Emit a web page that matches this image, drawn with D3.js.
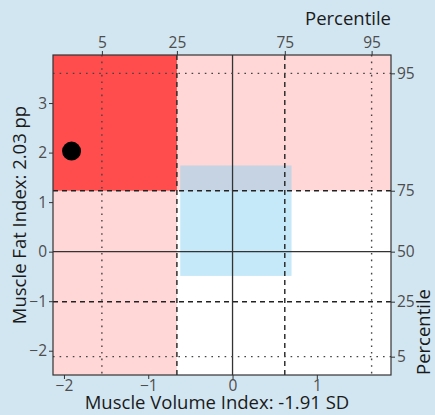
<!DOCTYPE html>
<html>
<head>
<meta charset="utf-8">
<script src="https://cdn.jsdelivr.net/npm/d3@7"></script>
<style>
  body { margin: 0; background: #d2e6f2; }
  svg { display: block; font-family: "Open Sans", sans-serif; }
</style>
</head>
<body>
<div id="chart"></div>
<script>
// patient values
const muscleVolume = -1.91;
const muscleFat = 2.03;

// reference percentiles (z / pp values)
const pctLabels = [5, 25, 50, 75, 95];
const xPctValues = [-1.55, -0.66, 0, 0.62, 1.65];
const yPctValues = [-2.12, -1.01, 0, 1.23, 3.60];
const topPctLabels = [5, 25, 75, 95];

// reference box (normal range)
const refBoxX = [-0.62, 0.70];
const refBoxY = [-0.49, 1.74];

const xTicks = [-2, -1, 0, 1];
const yTicks = [-2, -1, 0, 1, 2, 3];

const W = 435, H = 415;
const pLeft = 53, pRight = 391, pTop = 55, pBottom = 375;

const svg = d3.select("#chart").append("svg")
  .attr("width", W).attr("height", H);

svg.append("rect").attr("width", W).attr("height", H).attr("fill", "#d2e6f2");

let x = d3.scaleLinear().domain([-2.13, 1.88]).range([pLeft, pRight]);
let y = d3.scaleLinear().domain([-2.49, 3.97]).range([pBottom, pTop]);

const x25 = xPctValues[1], y75 = yPctValues[3];
const [xMin, xMax] = x.domain(), [yMin, yMax] = y.domain();

// panel background
svg.append("rect")
  .attr("x", pLeft).attr("y", pTop)
  .attr("width", pRight - pLeft).attr("height", pBottom - pTop)
  .attr("fill", "#ffffff");

// pink zones: low volume or high fat
svg.append("rect")
  .attr("x", x(xMin)).attr("y", y(yMax))
  .attr("width", x(x25) - x(xMin))
  .attr("height", y(yMin) - y(yMax))
  .attr("fill", "#ffd7d7");
svg.append("rect")
  .attr("x", x(xMin)).attr("y", y(yMax))
  .attr("width", x(xMax) - x(xMin))
  .attr("height", y(y75) - y(yMax))
  .attr("fill", "#ffd7d7");

// red zone: both
svg.append("rect")
  .attr("x", x(xMin)).attr("y", y(yMax))
  .attr("width", x(x25) - x(xMin))
  .attr("height", y(y75) - y(yMax))
  .attr("fill", "#ff4d4d");

// reference box
svg.append("rect")
  .attr("x", x(refBoxX[0])).attr("y", y(refBoxY[1]))
  .attr("width", x(refBoxX[1]) - x(refBoxX[0]))
  .attr("height", y(refBoxY[0]) - y(refBoxY[1]))
  .attr("fill", "rgb(129,207,240)")
  .attr("fill-opacity", 0.46);

// percentile lines
const dashFor = p => p == 50 ? null : (p == 25 || p == 75 ? "5,4" : "1.6,5");
const colFor = p => p == 50 ? "#333" : (p == 25 || p == 75 ? "#222" : "#444");

svg.selectAll(".vline").data(pctLabels).enter().append("line")
  .attr("class", "vline")
  .attr("x1", (d, i) => x(xPctValues[i])).attr("x2", (d, i) => x(xPctValues[i]))
  .attr("y1", pTop).attr("y2", pBottom)
  .attr("stroke", colFor)
  .attr("stroke-width", d => d == 50 ? 1.3 : 1.4)
  .attr("stroke-dasharray", dashFor);

svg.selectAll(".hline").data(pctLabels).enter().append("line")
  .attr("class", "hline")
  .attr("y1", (d, i) => y(yPctValues[i])).attr("y2", (d, i) => y(yPctValues[i]))
  .attr("x1", pLeft).attr("x2", pRight)
  .attr("stroke", colFor)
  .attr("stroke-width", d => d == 50 ? 1.3 : 1.4)
  .attr("stroke-dasharray", dashFor);

// patient point
svg.append("circle")
  .attr("cx", x(muscleVolume)).attr("cy", y(muscleFat))
  .attr("r", 9.5).attr("fill", "#000");

// panel border
svg.append("rect")
  .attr("x", pLeft).attr("y", pTop)
  .attr("width", pRight - pLeft).attr("height", pBottom - pTop)
  .attr("fill", "none").attr("stroke", "#333").attr("stroke-width", 1.2);

// axes
function styleAxis(g) {
  g.select(".domain").remove();
  g.selectAll(".tick line").attr("stroke", "#333");
  g.selectAll(".tick text").attr("fill", "#4d4d4d").attr("font-size", 15.5)
    .attr("font-family", "Open Sans, sans-serif");
}

svg.append("g")
  .attr("transform", "translate(0," + pBottom + ")")
  .call(d3.axisBottom(x).tickValues(xTicks).tickSize(4).tickPadding(1)
    .tickFormat(d => d3.format("")(d).replace("-", "\u2212")))
  .call(styleAxis);

svg.append("g")
  .attr("transform", "translate(" + pLeft + ",0)")
  .call(d3.axisLeft(y).tickValues(yTicks).tickSize(4).tickPadding(2)
    .tickFormat(d => d3.format("")(d).replace("-", "\u2212")))
  .call(styleAxis);

svg.append("g")
  .attr("transform", "translate(0," + pTop + ")")
  .call(d3.axisTop(x).tickValues(topPctLabels.map(p => xPctValues[pctLabels.indexOf(p)]))
    .tickSize(4).tickPadding(3)
    .tickFormat((d, i) => topPctLabels[i]))
  .call(styleAxis);

svg.append("g")
  .attr("transform", "translate(" + pRight + ",0)")
  .call(d3.axisRight(y).tickValues(yPctValues).tickSize(4).tickPadding(2)
    .tickFormat((d, i) => pctLabels[i]))
  .call(styleAxis);

// titles
svg.append("text")
  .attr("x", (pLeft + pRight) / 2 - 5).attr("y", 409)
  .attr("text-anchor", "middle").attr("font-size", 18.5).attr("fill", "#1a1a1a")
  .text("Muscle Volume Index: " + muscleVolume.toFixed(2) + " SD");

svg.append("text")
  .attr("transform", "translate(26," + (pTop + pBottom) / 2 + ") rotate(-90)")
  .attr("text-anchor", "middle").attr("font-size", 18.5).attr("fill", "#1a1a1a")
  .text("Muscle Fat Index: " + muscleFat.toFixed(2) + " pp");

svg.append("text")
  .attr("x", pRight).attr("y", 25)
  .attr("text-anchor", "end").attr("font-size", 18.5).attr("fill", "#1a1a1a")
  .text("Percentile");

svg.append("text")
  .attr("transform", "translate(430," + pBottom + ") rotate(-90)")
  .attr("text-anchor", "start").attr("font-size", 18.5).attr("fill", "#1a1a1a")
  .text("Percentile");
</script>
</body>
</html>
